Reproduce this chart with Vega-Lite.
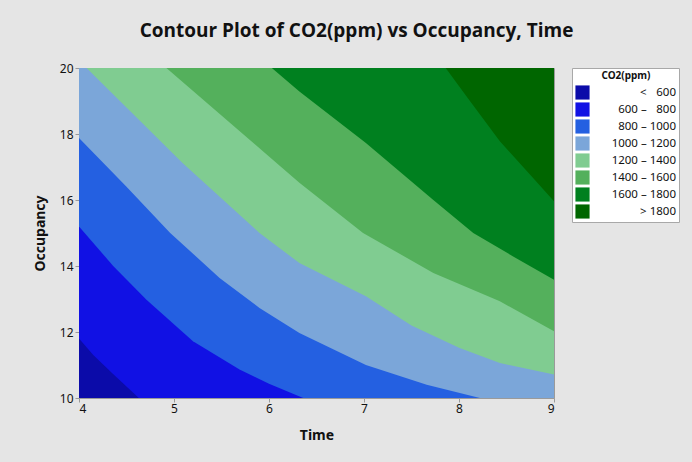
{
  "$schema": "https://vega.github.io/schema/vega-lite/v6.json",
  "width": 475,
  "height": 330,
  "autosize": "none",
  "padding": {"left": 79, "top": 68, "right": 138, "bottom": 64},
  "background": "#e5e5e5",
  "config": {
    "font": "Noto Sans",
    "view": {"stroke": "#9a9a9a", "strokeWidth": 1}
  },
  "title": {
    "text": "Contour Plot of CO2(ppm) vs Occupancy, Time",
    "font": "Open Sans",
    "fontSize": 19,
    "fontWeight": "bold",
    "color": "#111111",
    "anchor": "middle",
    "frame": "group",
    "dx": 40,
    "offset": 21
  },
  "datasets": {
    "bands": [
      {"band": "< 600", "t": 4, "occ": 10},
      {"band": "< 600", "t": 9, "occ": 10},

      {"band": "600 – 800", "t": 4, "occ": 11.8},
      {"band": "600 – 800", "t": 4.15, "occ": 11.3},
      {"band": "600 – 800", "t": 4.35, "occ": 10.75},
      {"band": "600 – 800", "t": 4.63, "occ": 10},
      {"band": "600 – 800", "t": 9, "occ": 10},

      {"band": "800 – 1000", "t": 4, "occ": 15.2},
      {"band": "800 – 1000", "t": 4.36, "occ": 14.0},
      {"band": "800 – 1000", "t": 4.71, "occ": 12.98},
      {"band": "800 – 1000", "t": 5.2, "occ": 11.72},
      {"band": "800 – 1000", "t": 5.69, "occ": 10.86},
      {"band": "800 – 1000", "t": 6.0, "occ": 10.43},
      {"band": "800 – 1000", "t": 6.36, "occ": 10.0},
      {"band": "800 – 1000", "t": 9, "occ": 10.0},

      {"band": "1000 – 1200", "t": 4, "occ": 17.88},
      {"band": "1000 – 1200", "t": 4.5, "occ": 16.4},
      {"band": "1000 – 1200", "t": 4.96, "occ": 15.0},
      {"band": "1000 – 1200", "t": 5.48, "occ": 13.64},
      {"band": "1000 – 1200", "t": 5.9, "occ": 12.73},
      {"band": "1000 – 1200", "t": 6.32, "occ": 11.97},
      {"band": "1000 – 1200", "t": 7.02, "occ": 11.0},
      {"band": "1000 – 1200", "t": 7.66, "occ": 10.4},
      {"band": "1000 – 1200", "t": 8.22, "occ": 10.0},
      {"band": "1000 – 1200", "t": 9, "occ": 10.0},

      {"band": "1200 – 1400", "t": 4, "occ": 20},
      {"band": "1200 – 1400", "t": 4.08, "occ": 20},
      {"band": "1200 – 1400", "t": 5.09, "occ": 17.12},
      {"band": "1200 – 1400", "t": 5.9, "occ": 15.0},
      {"band": "1200 – 1400", "t": 6.32, "occ": 14.09},
      {"band": "1200 – 1400", "t": 7.02, "occ": 13.08},
      {"band": "1200 – 1400", "t": 7.5, "occ": 12.2},
      {"band": "1200 – 1400", "t": 8.0, "occ": 11.52},
      {"band": "1200 – 1400", "t": 8.43, "occ": 11.06},
      {"band": "1200 – 1400", "t": 9, "occ": 10.71},

      {"band": "1400 – 1600", "t": 4, "occ": 20},
      {"band": "1400 – 1600", "t": 4.92, "occ": 20},
      {"band": "1400 – 1600", "t": 6.0, "occ": 17.32},
      {"band": "1400 – 1600", "t": 6.32, "occ": 16.52},
      {"band": "1400 – 1600", "t": 6.99, "occ": 15.0},
      {"band": "1400 – 1600", "t": 7.73, "occ": 13.79},
      {"band": "1400 – 1600", "t": 8.43, "occ": 12.93},
      {"band": "1400 – 1600", "t": 9, "occ": 12.02},

      {"band": "1600 – 1800", "t": 4, "occ": 20},
      {"band": "1600 – 1800", "t": 6.03, "occ": 20},
      {"band": "1600 – 1800", "t": 6.32, "occ": 19.29},
      {"band": "1600 – 1800", "t": 7.02, "occ": 17.73},
      {"band": "1600 – 1800", "t": 7.73, "occ": 16.0},
      {"band": "1600 – 1800", "t": 8.15, "occ": 15.0},
      {"band": "1600 – 1800", "t": 8.57, "occ": 14.29},
      {"band": "1600 – 1800", "t": 9, "occ": 13.58},

      {"band": "> 1800", "t": 4, "occ": 20},
      {"band": "> 1800", "t": 7.86, "occ": 20},
      {"band": "> 1800", "t": 8.08, "occ": 19.14},
      {"band": "> 1800", "t": 8.43, "occ": 17.78},
      {"band": "> 1800", "t": 8.78, "occ": 16.67},
      {"band": "> 1800", "t": 9, "occ": 15.96}
    ],
    "refx": [{"t": 6}],
    "refy": [{"occ": 15}]
  },
  "encoding": {
    "x": {
      "field": "t",
      "type": "quantitative",
      "title": "Time",
      "scale": {"domain": [4, 9], "nice": false, "zero": false},
      "axis": {
        "values": [4, 5, 6, 7, 8, 9],
        "grid": false,
        "domainColor": "#9a9a9a",
        "tickColor": "#9a9a9a",
        "tickSize": 4,
        "labelFontSize": 12,
        "labelColor": "#111111",
        "labelPadding": 1,
        "titleFontSize": 14,
        "titleFontWeight": "bold",
        "titleColor": "#111111",
        "titlePadding": 14
      }
    },
    "y": {
      "field": "occ",
      "type": "quantitative",
      "title": "Occupancy",
      "scale": {"domain": [10, 20], "nice": false, "zero": false},
      "axis": {
        "values": [10, 12, 14, 16, 18, 20],
        "grid": false,
        "domainColor": "#9a9a9a",
        "tickColor": "#9a9a9a",
        "tickSize": 4,
        "labelFontSize": 12,
        "labelColor": "#111111",
        "labelPadding": 2,
        "titleFontSize": 14,
        "titleFontWeight": "bold",
        "titleColor": "#111111",
        "titlePadding": 12
      }
    }
  },
  "layer": [
    {"data": {"name": "bands"}, "transform": [{"filter": "datum.band == '< 600'"}], "mark": {"type": "area", "clip": true}, "encoding": {"y2": {"datum": 20}, "color": {"field": "band", "type": "nominal"}}},
    {"data": {"name": "bands"}, "transform": [{"filter": "datum.band == '600 – 800'"}], "mark": {"type": "area", "clip": true}, "encoding": {"y2": {"datum": 20}, "color": {"field": "band", "type": "nominal"}}},
    {"data": {"name": "bands"}, "transform": [{"filter": "datum.band == '800 – 1000'"}], "mark": {"type": "area", "clip": true}, "encoding": {"y2": {"datum": 20}, "color": {"field": "band", "type": "nominal"}}},
    {"data": {"name": "bands"}, "transform": [{"filter": "datum.band == '1000 – 1200'"}], "mark": {"type": "area", "clip": true}, "encoding": {"y2": {"datum": 20}, "color": {"field": "band", "type": "nominal"}}},
    {"data": {"name": "bands"}, "transform": [{"filter": "datum.band == '1200 – 1400'"}], "mark": {"type": "area", "clip": true}, "encoding": {"y2": {"datum": 20}, "color": {"field": "band", "type": "nominal"}}},
    {"data": {"name": "bands"}, "transform": [{"filter": "datum.band == '1400 – 1600'"}], "mark": {"type": "area", "clip": true}, "encoding": {"y2": {"datum": 20}, "color": {"field": "band", "type": "nominal"}}},
    {"data": {"name": "bands"}, "transform": [{"filter": "datum.band == '1600 – 1800'"}], "mark": {"type": "area", "clip": true}, "encoding": {"y2": {"datum": 20}, "color": {"field": "band", "type": "nominal"}}},
    {"data": {"name": "bands"}, "transform": [{"filter": "datum.band == '> 1800'"}], "mark": {"type": "area", "clip": true}, "encoding": {"y2": {"datum": 20}, "color": {"field": "band", "type": "nominal", "title": "CO2(ppm)",
      "scale": {
        "domain": ["< 600", "600 – 800", "800 – 1000", "1000 – 1200", "1200 – 1400", "1400 – 1600", "1600 – 1800", "> 1800"],
        "range": ["#0b0ba9", "#1111e4", "#2460e1", "#7ba6d9", "#80cc91", "#54b05c", "#00801f", "#006600"]
      },
      "legend": {
        "orient": "none",
        "legendX": 493,
        "legendY": 0,
        "fillColor": "white",
        "strokeColor": "#a8a8a8",
        "padding": 3,
        "title": "CO2(ppm)",
        "titleFontSize": 10,
        "titleFontWeight": "bold",
        "titleColor": "#111111",
        "titleAnchor": "middle",
        "titleAlign": "center",
        "titlePadding": 4,
        "symbolType": "square",
        "symbolSize": 200,
        "symbolStrokeWidth": 0,
        "symbolOpacity": 1,
        "rowPadding": 2,
        "labelFontSize": 11.5,
        "labelColor": "#111111",
        "labelAlign": "right",
        "labelOffset": 86,
        "labelExpr": "datum.label == '< 600' ? '<  \u2007600' : datum.label == '600 – 800' ? '600 – \u2007800' : datum.label"
      }
    }}},
    {"data": {"name": "refx"}, "mark": {"type": "rule", "color": "white", "opacity": 0.35, "strokeWidth": 1}, "encoding": {"x": {"field": "t", "type": "quantitative"}}},
    {"data": {"name": "refy"}, "mark": {"type": "rule", "color": "white", "opacity": 0.35, "strokeWidth": 1}, "encoding": {"y": {"field": "occ", "type": "quantitative"}}}
  ]
}
